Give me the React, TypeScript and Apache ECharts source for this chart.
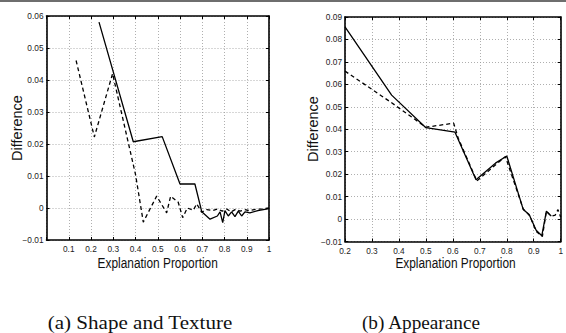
import React, { useEffect, useRef } from "react";
import * as echarts from "echarts";

// ---- Data ----
const leftSolidX = [0.236, 0.39, 0.52, 0.6, 0.667, 0.698, 0.735, 0.768, 0.78, 0.792, 0.802, 0.817, 0.832, 0.847, 0.862, 0.877, 0.892, 0.914, 0.95, 1.0];
const leftSolidY = [0.0581, 0.0207, 0.0223, 0.0075, 0.0075, -0.0012, -0.0035, -0.0025, -0.0012, -0.0046, -0.0008, -0.0025, -0.0012, -0.0027, -0.001, -0.0025, -0.0012, -0.0015, -0.0008, -0.0002];

const leftDashX = [0.133, 0.215, 0.297, 0.4, 0.435, 0.495, 0.54, 0.558, 0.592, 0.612, 0.633, 0.66, 0.675, 0.697, 0.72, 0.745, 0.77, 0.79, 0.81, 0.83, 0.85, 0.87, 0.89, 0.91, 0.94, 0.97, 1.0];
const leftDashY = [0.0461, 0.0222, 0.042, 0.0105, -0.0044, 0.0037, -0.0015, 0.0037, 0.0018, -0.003, 0.0, -0.0007, 0.0013, -0.0013, -0.0005, -0.0008, -0.0003, -0.001, -0.0003, -0.0012, -0.0004, -0.001, -0.0005, -0.0008, -0.0004, -0.0003, 0.0];

const rightSolidX = [0.2, 0.373, 0.5, 0.608, 0.686, 0.758, 0.8, 0.861, 0.883, 0.909, 0.93, 0.947, 0.965];
const rightSolidY = [0.0856, 0.0552, 0.0407, 0.0387, 0.0175, 0.0249, 0.0281, 0.0043, 0.002, -0.005, -0.0074, 0.0035, 0.0013];

const rightDashX = [0.2, 0.373, 0.5, 0.603, 0.62, 0.689, 0.76, 0.795, 0.861, 0.885, 0.909, 0.932, 0.947, 0.965, 0.98, 0.99, 1.0];
const rightDashY = [0.0659, 0.0518, 0.0409, 0.0427, 0.036, 0.017, 0.0243, 0.0278, 0.0045, 0.0015, -0.0055, -0.0078, 0.0035, 0.0012, 0.0018, 0.0042, 0.0008];

const leftX = { min: 0, max: 1, interval: 0.1 };
const leftY = { min: -0.01, max: 0.06, interval: 0.01 };
const rightX = { min: 0.2, max: 1, interval: 0.1 };
const rightY = { min: -0.01, max: 0.09, interval: 0.01 };

const captions = ["(a) Shape and Texture", "(b) Appearance"];
const xName = "Explanation Proportion";
const yName = "Difference";

const pair = (xs: number[], ys: number[]) => xs.map((x, i) => [x, ys[i]]);

const fmtX = (hideZero: boolean) => (v: number) => {
  if (Math.abs(v) < 1e-9) return hideZero ? "" : "0";
  if (Math.abs(v - 1) < 1e-9) return "1";
  return v.toFixed(1);
};
const fmtY = (v: number) => {
  if (Math.abs(v) < 1e-9) return "0";
  const s = v.toFixed(2);
  return s.replace("-", "\u2212");
};

const FONT = "Liberation Sans";

export default function App() {
  const ref = useRef<HTMLDivElement>(null);
  useEffect(() => {
    if (!ref.current) return;
    const chart = echarts.init(ref.current, undefined, { renderer: "svg" });
    const axisLine = { show: true, onZero: false, lineStyle: { color: "#000", width: 1.6 } };
    const tick = { show: true, inside: true, length: 3, lineStyle: { color: "#000", width: 1 } };
    const split = { show: true, lineStyle: { color: "#9a9a9a", width: 0.8, type: [1, 2] as any } };
    const lbl = { color: "#222", fontSize: 8.3, fontFamily: FONT };

    const mkX = (g: number, r: any, hideZero: boolean) => [
      {
        type: "value", gridIndex: g, ...r, position: "bottom",
        axisLine, axisTick: tick, splitLine: split,
        axisLabel: { ...lbl, margin: 5, formatter: fmtX(hideZero) },
      },
      {
        type: "value", gridIndex: g, ...r, position: "top",
        axisLine, axisTick: tick, splitLine: { show: false }, axisLabel: { show: false },
      },
    ];
    const mkY = (g: number, r: any) => [
      {
        type: "value", gridIndex: g, ...r, position: "left",
        axisLine, axisTick: tick, splitLine: split,
        axisLabel: { ...lbl, margin: 3, formatter: fmtY },
      },
      {
        type: "value", gridIndex: g, ...r, position: "right",
        axisLine, axisTick: tick, splitLine: { show: false }, axisLabel: { show: false },
      },
    ];

    const solid = { color: "#000", width: 1.3, type: "solid" };
    const dashed = { color: "#000", width: 1.3, type: [4, 3] };
    const line = (xi: number, yi: number, d: number[][], ls: any) => ({
      type: "line", xAxisIndex: xi, yAxisIndex: yi, data: d, symbol: "none",
      lineStyle: ls, itemStyle: { color: "#000" }, silent: true,
    });

    const nameFont = "14.5px 'Liberation Sans'";
    const xNameText = (x: number) => ({
      type: "text", x, y: 263.5, scaleX: 0.82,
      style: { text: xName, font: nameFont, fill: "#111", align: "center", verticalAlign: "middle" },
    });
    const yNameText = (x: number, y: number) => ({
      type: "text", x, y, rotation: Math.PI / 2,
      style: { text: yName, font: nameFont, fill: "#111", align: "center", verticalAlign: "middle" },
    });

    chart.setOption({
      animation: false,
      backgroundColor: "#fff",
      grid: [
        { left: 46.5, top: 16, width: 222.5, height: 224 },
        { left: 345, top: 17, width: 221.5, height: 224.5 },
      ],
      xAxis: [...mkX(0, leftX, true), ...mkX(1, rightX, false)],
      yAxis: [...mkY(0, leftY), ...mkY(1, rightY)],
      series: [
        line(0, 0, pair(leftSolidX, leftSolidY), solid),
        line(0, 0, pair(leftDashX, leftDashY), dashed),
        line(2, 2, pair(rightSolidX, rightSolidY), solid),
        line(2, 2, pair(rightDashX, rightDashY), dashed),
      ],
      graphic: [
        { type: "rect", left: 0, top: 0, shape: { width: 566, height: 2 }, style: { fill: "#6e6e6e" } },
        xNameText(157.7),
        xNameText(455.5),
        yNameText(17, 128),
        yNameText(313, 129),
        {
          type: "text", x: 140, y: 323, scaleX: 1.17,
          style: { text: captions[0], font: "18px 'Liberation Serif'", fill: "#111", align: "center", verticalAlign: "middle" },
        },
        {
          type: "text", x: 421, y: 323, scaleX: 1.07,
          style: { text: captions[1], font: "18px 'Liberation Serif'", fill: "#111", align: "center", verticalAlign: "middle" },
        },
      ],
    });
    return () => chart.dispose();
  }, []);
  return (
    <div
      ref={ref}
      style={{ position: "absolute", left: 0, top: 0, width: 566, height: 333 }}
    />
  );
}
